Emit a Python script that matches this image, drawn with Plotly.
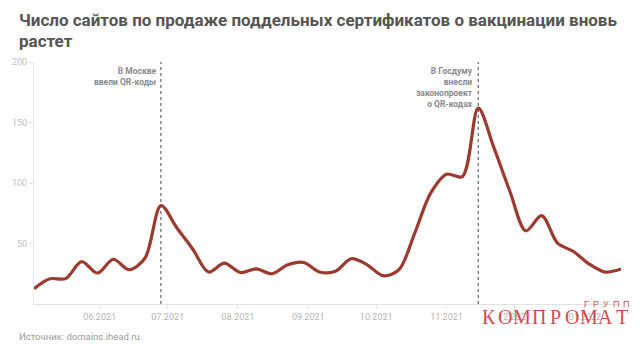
import datetime as dt
import plotly.graph_objects as go

# Weekly counts of sites selling fake vaccination certificates (Mondays)
start_week = dt.date(2021, 5, 3)
site_counts = [
    12.6, 20.8, 21.0, 35.0, 25.6, 37.0, 28.3, 38.0, 81.4, 63.0,
    45.5, 26.4, 33.8, 26.0, 29.0, 25.0, 32.4, 34.3, 26.4, 27.0,
    37.4, 32.4, 23.4, 28.3, 58.6, 91.6, 107.3, 105.3, 161.8, 128.8,
    93.0, 60.5, 73.0, 50.3, 43.4, 33.0, 26.4, 29.0,
]
weeks = [start_week + dt.timedelta(days=7 * i) for i in range(len(site_counts))]

# Month ticks on the time axis
month_ticks = [dt.date(2021, m, 1) for m in range(6, 13)] + [dt.date(2022, 1, 1)]
y_ticks = [50, 100, 150, 200]

# Marked events
event_dates = [dt.date(2021, 6, 28), dt.date(2021, 11, 15)]
event_labels = [
    "В Москве<br>ввели QR-коды",
    "В Госдуму<br>внесли<br>законопроект<br>о QR-кодах",
]

title_lines = ["Число сайтов по продаже поддельных сертификатов о вакцинации вновь", "растет"]
source_text = "Источник: domains.ihead.ru"
brand_word = "КОМПРОМАТ"
brand_sub = "ГРУПП"

W, H = 640, 344
M = dict(l=25, r=19, t=62, b=40)
plot_w = W - M["l"] - M["r"]
plot_h = H - M["t"] - M["b"]


def px_x(px):
    """Pixel column in the page -> paper x."""
    return (px - M["l"]) / plot_w


def px_y(py):
    """Pixel row in the page -> paper y."""
    return (H - M["b"] - py) / plot_h


fig = go.Figure()
fig.add_trace(go.Scatter(
    x=weeks, y=site_counts, mode="lines",
    line=dict(color="#9c3a2f", width=3.2, shape="spline", smoothing=0.9),
    hoverinfo="skip", showlegend=False,
))

for d, label in zip(event_dates, event_labels):
    fig.add_shape(type="line", xref="x", yref="y", x0=d, x1=d, y0=0, y1=200,
                  line=dict(color="#444", width=1, dash="dot"), layer="below")
    fig.add_annotation(x=d, y=200, xref="x", yref="y", text="<b>" + label + "</b>",
                       xanchor="right", yanchor="top", align="right",
                       xshift=-3, yshift=-2, showarrow=False,
                       font=dict(family="Roboto", size=8.5, color="#8a8a8a"))

fig.update_layout(
    width=W, height=H,
    margin=M,
    paper_bgcolor="white", plot_bgcolor="white",
    xaxis=dict(
        type="date", range=[weeks[0], weeks[-1]],
        tickvals=month_ticks, tickformat="%m.%Y",
        showgrid=False, zeroline=False,
        showline=True, linecolor="#e2e2e2", linewidth=1,
        ticks="outside", ticklen=4, tickcolor="#e2e2e2",
        tickfont=dict(family="Roboto", size=9, color="#b5b5b5"),
    ),
    yaxis=dict(
        range=[0, 200], tickvals=y_ticks,
        showgrid=False, zeroline=False,
        showline=True, linecolor="#e8e8e8", linewidth=1,
        ticks="outside", ticklen=4, tickcolor="#e2e2e2",
        tickfont=dict(family="Roboto", size=9, color="#c0c0c0"),
    ),
)

# Title, two lines
for i, line in enumerate(title_lines):
    fig.add_annotation(text="<b>" + line + "</b>", xref="paper", yref="paper",
                       x=px_x(8), y=px_y(20 + 21 * i), xanchor="left", yanchor="middle",
                       showarrow=False,
                       font=dict(family="Roboto", size=17, color="#555555"))

fig.add_annotation(text=source_text, xref="paper", yref="paper",
                   x=px_x(8), y=px_y(337), xanchor="left", yanchor="middle",
                   showarrow=False,
                   font=dict(family="Roboto", size=9.5, color="#9a9a9a"))

# Publisher mark in the lower right corner, letter by letter for wide tracking
brand_color = "rgba(208,58,58,0.92)"
for i, ch in enumerate(brand_word):
    fig.add_annotation(text=ch, xref="paper", yref="paper",
                       x=px_x(486.5 + 17 * i), y=px_y(317), xanchor="center", yanchor="middle",
                       showarrow=False,
                       font=dict(family="Liberation Serif", size=20, color=brand_color))
for i, ch in enumerate(brand_sub):
    fig.add_annotation(text=ch, xref="paper", yref="paper",
                       x=px_x(586 + 10 * i), y=px_y(304), xanchor="center", yanchor="middle",
                       showarrow=False,
                       font=dict(family="Liberation Sans", size=9, color=brand_color))

fig.write_html("out.html")
